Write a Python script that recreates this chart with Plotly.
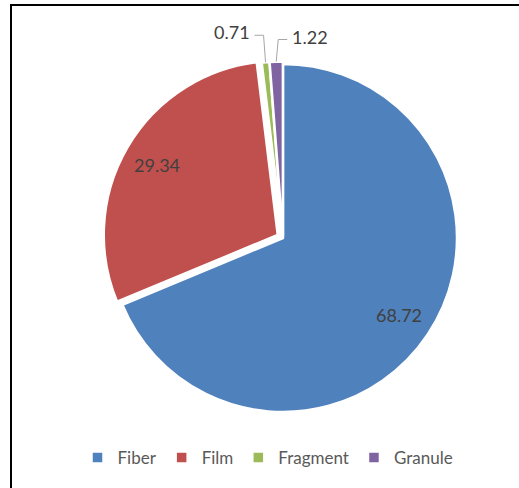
import math
import plotly.graph_objects as go

# Share of microplastic shapes (%)
shapes = ["Fiber", "Film", "Fragment", "Granule"]
shares = [68.72, 29.34, 0.71, 1.22]
colors = ["#4F81BD", "#C0504D", "#9BBB59", "#8064A2"]
pulls = [0.0, 0.035, 0.015, 0.015]

W, H = 519, 488
CX, CY = 283, 238          # pie centre in px
R = 174                    # pie radius in px
R_DOM = R * (1 + max(pulls))

def px(x, y):
    return x / W, 1 - y / H

fig = go.Figure()
fig.add_trace(go.Pie(
    labels=shapes, values=shares, sort=False, direction="clockwise", rotation=0,
    marker=dict(colors=colors, line=dict(color="white", width=2.5)),
    pull=pulls, textinfo="none", hoverinfo="label+value",
    domain=dict(x=[(CX - R_DOM) / W, (CX + R_DOM) / W],
                y=[1 - (CY + R_DOM) / H, 1 - (CY - R_DOM) / H]),
))

# slice mid angles (clockwise from 12 o'clock)
total = sum(shares)
mids, cum = [], 0.0
for v in shares:
    mids.append((cum + v / 2) / total * 2 * math.pi)
    cum += v

def polar(i, frac):
    r = R * (frac + pulls[i])
    return CX + r * math.sin(mids[i]), CY - r * math.cos(mids[i])

annotations = []
shape_list = []
label_font = dict(family="Lato", size=18, color="#404040")
# large slices: labels inside
for i in (0, 1):
    x, y = polar(i, 0.8)
    ax, ay = px(x, y)
    annotations.append(dict(x=ax, y=ay, xref="paper", yref="paper",
                            xanchor="center", yanchor="middle",
                            text=f"{shares[i]:.2f}", showarrow=False, font=label_font))
# small slices: labels outside with elbow leader lines
for i, side, rise in ((2, -1, 27), (3, 1, 22)):
    x0, y0 = polar(i, 1.0)
    y1 = y0 - rise
    x1 = x0 - 2 * (-side)
    x2 = x1 + side * 9
    path = "M {} {} L {} {} L {} {}".format(*px(x0, y0), *px(x1, y1), *px(x2, y1))
    shape_list.append(dict(type="path", xref="paper", yref="paper", path=path,
                           line=dict(color="#A6A6A6", width=1)))
    tx, ty = px(x2 + side * 3, y1 - 3)
    annotations.append(dict(x=tx, y=ty, xref="paper", yref="paper",
                            text=f"{shares[i]:.2f}", showarrow=False, font=label_font,
                            xanchor="left" if side > 0 else "right", yanchor="middle"))

# chart frame
fx0, fy0 = px(11, 5)
shape_list.append(dict(type="rect", xref="paper", yref="paper",
                       x0=fx0, y0=fy0, x1=1.2, y1=-0.2,
                       line=dict(color="black", width=2)))

fig.update_layout(
    width=W, height=H,
    margin=dict(l=0, r=0, t=0, b=0),
    paper_bgcolor="white", plot_bgcolor="white",
    showlegend=True,
    legend=dict(orientation="h", x=268 / W, xanchor="center", y=1 - 458 / H, yanchor="middle",
                font=dict(family="Lato", size=17, color="#595959"), traceorder="normal"),
    annotations=annotations,
    shapes=shape_list,
)

fig.write_html("out.html")
